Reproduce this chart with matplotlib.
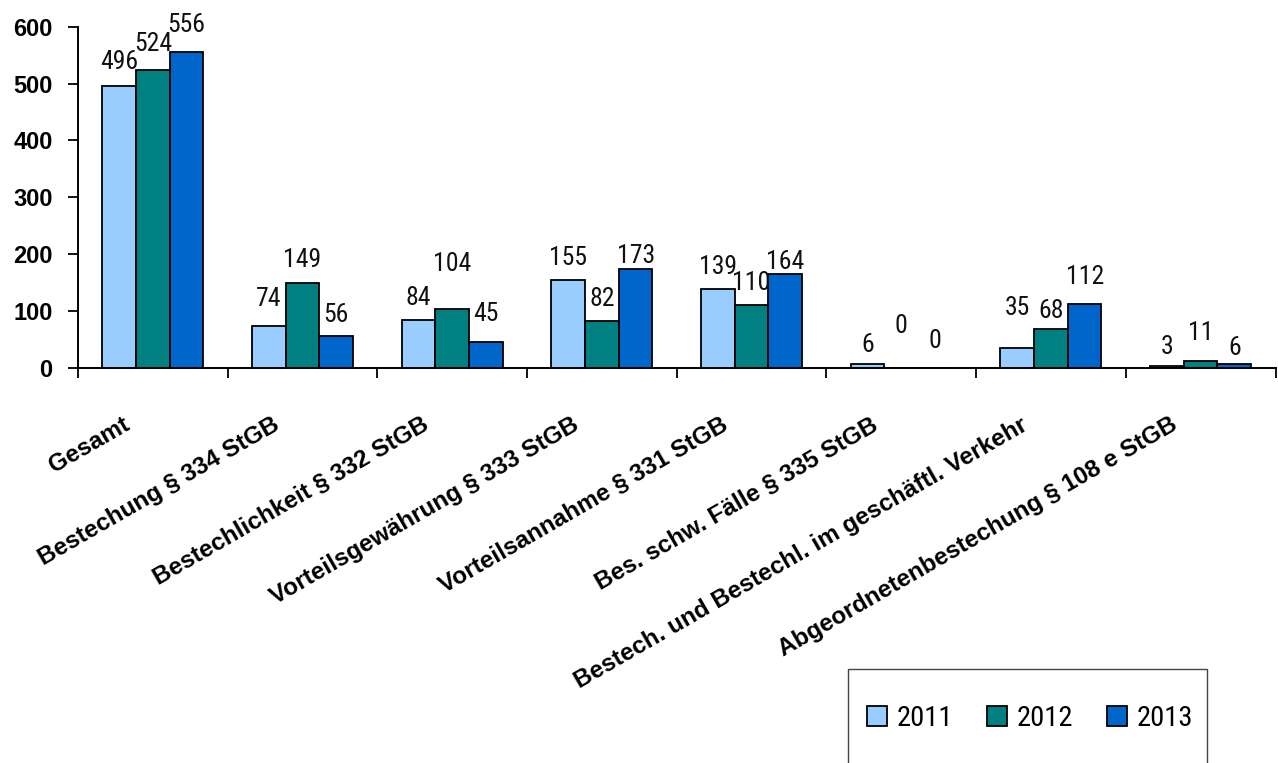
import matplotlib
matplotlib.use("Agg")
import matplotlib.pyplot as plt
import matplotlib.transforms as mtransforms
from matplotlib import font_manager
from matplotlib.patches import Patch, Rectangle
import numpy as np

categories = [
    "Gesamt",
    "Bestechung § 334 StGB",
    "Bestechlichkeit § 332 StGB",
    "Vorteilsgewährung § 333 StGB",
    "Vorteilsannahme § 331 StGB",
    "Bes. schw. Fälle § 335 StGB",
    "Bestech. und Bestechl. im geschäftl. Verkehr",
    "Abgeordnetenbestechung § 108 e StGB",
]
years = ["2011", "2012", "2013"]
values_2011 = [496, 74, 84, 155, 139, 6, 35, 3]
values_2012 = [524, 149, 104, 82, 110, 0, 68, 11]
values_2013 = [556, 56, 45, 173, 164, 0, 112, 6]
y_ticks = [0, 100, 200, 300, 400, 500, 600]

colors = ["#99CCFF", "#008080", "#0066CC"]
# vertical lift (pixels) of each value label above its bar, per series
label_lift = [
    [24, 27, 22, 22, 22, 19, 40, 19],
    [26, 23, 45, 22, 22, 42, 18, 28],
    [27, 21, 28, 13, 12, 27, 27, 16],
]

# prefer a condensed face for the value labels and legend when one exists
installed = {f.name for f in font_manager.fontManager.ttflist}
narrow_first = [n for n in ["Liberation Sans Narrow", "Arial Narrow", "Roboto Condensed"]
                if n in installed]
narrow = narrow_first + ["Liberation Sans", "DejaVu Sans"]
has_narrow = bool(narrow_first)
sans = ["Liberation Sans", "DejaVu Sans"]

W, H = 1278, 763
fig = plt.figure(figsize=(W / 100, H / 100), dpi=100)
ax = fig.add_axes([78 / W, 1 - 367.7 / H, (1275.5 - 78) / W, (367.7 - 26.7) / H])

series = [values_2011, values_2012, values_2013]
x = np.arange(len(categories))
bw = 0.225
for k, vals in enumerate(series):
    xs = x + (k - 1) * bw
    ax.bar(xs, vals, width=bw, color=colors[k], edgecolor="black",
           linewidth=1.3, zorder=2)
    for xi, v, lift in zip(xs, vals, label_lift[k]):
        ax.annotate(str(v), (xi, v), xytext=(0, lift), textcoords="offset pixels",
                    ha="center", va="center", fontsize=18.5 if has_narrow else 17,
                    family=narrow, color="#111111", zorder=3)

ax.set_xlim(-0.5, len(categories) - 0.5)
ax.set_ylim(0, 600)
ax.set_yticks(y_ticks)
ax.set_yticklabels([str(t) for t in y_ticks], fontsize=17, fontweight="bold",
                   family=sans)
ax.tick_params(axis="y", length=7.2, width=1.3, pad=11, direction="out")

# category boundaries carry the tick marks; labels sit at the centres
ax.set_xticks(np.arange(-0.5, len(categories), 1.0))
ax.set_xticklabels([])
ax.tick_params(axis="x", which="major", length=7.5, width=1.3, direction="out")
ax.set_xticks(x, minor=True)
ax.set_xticklabels(categories, minor=True, rotation=30, ha="right",
                   va="center", rotation_mode="anchor", fontsize=17.5,
                   fontweight="bold", family=sans)
ax.tick_params(axis="x", which="minor", length=0, pad=40)
shift = mtransforms.ScaledTranslation(-25 / 100, 0, fig.dpi_scale_trans)
for lbl in ax.get_xticklabels(minor=True):
    lbl.set_transform(lbl.get_transform() + shift)

for s in ["top", "right"]:
    ax.spines[s].set_visible(False)
for s in ["left", "bottom"]:
    ax.spines[s].set_linewidth(1.4)
    ax.spines[s].set_color("black")

# legend box, running off the bottom edge of the figure
fig.patches.append(Rectangle((848 / W, 1 - 768 / H), (1207 - 848) / W, (768 - 669) / H,
                             transform=fig.transFigure, fill=False,
                             edgecolor="#444444", linewidth=1.0))
handles = [Patch(facecolor=c, edgecolor="black", linewidth=1.3) for c in colors]
fig.legend(handles, years, loc="center", bbox_to_anchor=(1030 / W, 1 - 718 / H),
           bbox_transform=fig.transFigure, ncol=3, frameon=False,
           prop={"family": narrow, "size": 20.5 if has_narrow else 19.5},
           handlelength=0.7, handleheight=0.7, handletextpad=0.33,
           columnspacing=1.2, borderpad=0)

fig.savefig("out.png", dpi=100)
